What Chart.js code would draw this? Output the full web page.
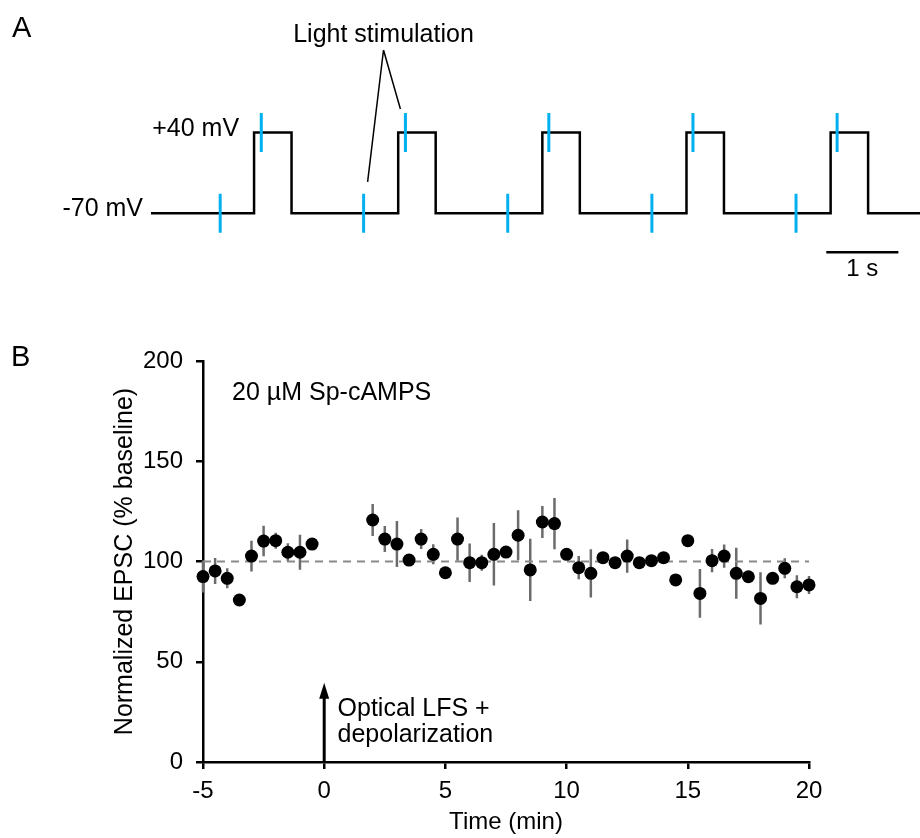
<!DOCTYPE html>
<html>
<head>
<meta charset="utf-8">
<script src="https://cdn.jsdelivr.net/npm/chart.js@4"></script>
<style>
  html, body { margin: 0; padding: 0; background: #fff; }
  #wrap { position: relative; width: 920px; height: 838px; }
  #traceWrap { position: absolute; left: 0; top: 0; }
  #epscWrap { position: absolute; left: 0; top: 290px; }
</style>
</head>
<body>
<div id="wrap">
  <div id="traceWrap"><canvas id="traceChart" width="920" height="295"></canvas></div>
  <div id="epscWrap"><canvas id="epscChart" width="920" height="548"></canvas></div>
</div>
<script>
// ---- panel A: voltage protocol (time in s, voltage in mV)
const holdMv = -70;
const stepMv = 40;
const traceEnd = 10.67;
const pulseOn = [1.43, 3.43, 5.43, 7.43, 9.43];
const pulseOff = [1.95, 3.95, 5.95, 7.95, 9.95];
const stimAtRest = [0.96, 2.95, 4.95, 6.95, 8.95];
const stimAtDepol = [1.53, 3.53, 5.52, 7.52, 9.52];

// ---- panel B: normalized EPSC (% baseline) vs time (min)
const preTime = [-5, -4.5, -4, -3.5, -3, -2.5, -2, -1.5, -1, -0.5];
const preEpsc = [92.5, 95.3, 91.6, 80.8, 102.7, 110.2, 110.4, 104.6, 104.6, 108.7];
const preSem = [8, 6.5, 5, 1.5, 7.7, 7.6, 4, 4.5, 8.7, 1.5];

const postTime = [2, 2.5, 3, 3.5, 4, 4.5, 5, 5.5, 6, 6.5, 7, 7.5, 8, 8.5, 9, 9.5, 10, 10.5, 11, 11.5,
                  12, 12.5, 13, 13.5, 14, 14.5, 15, 15.5, 16, 16.5, 17, 17.5, 18, 18.5, 19, 19.5, 20];
const postEpsc = [120.7, 111.2, 108.7, 100.7, 111.2, 103.6, 94.4, 111.2, 99.4, 99.4, 103.6, 104.7, 113.1, 95.8,
                  119.7, 118.9, 103.6, 96.9, 94.1, 101.9, 99.4, 102.7, 99.4, 100.4, 101.9, 90.8, 110.4, 84.1,
                  100.4, 102.7, 94.1, 92.4, 81.6, 91.6, 96.6, 87.4, 88.3];
const postSem = [8, 6.5, 11.5, 2, 5, 5, 1.5, 10.8, 9.6, 4, 15.6, 3, 12.5, 15.5, 8, 12.8, 2, 5.8, 12, 2,
                 1.5, 8.3, 1.5, 1.5, 1.5, 1.5, 1.5, 12.2, 5.8, 5.8, 12.7, 1.5, 13, 1.5, 5, 5.7, 4.5];

const baselineLevel = 100;
const inductionAt = 0;
const xTicks = [-5, 0, 5, 10, 15, 20];
const yTicks = [0, 50, 100, 150, 200];

const FONT = "'Liberation Sans', Arial, sans-serif";
const BLUE = '#00b0f0';

// step trace from the pulse times
const tracePts = [{x: 0, y: holdMv}];
pulseOn.forEach((t, i) => {
  tracePts.push({x: t, y: holdMv}, {x: t, y: stepMv}, {x: pulseOff[i], y: stepMv}, {x: pulseOff[i], y: holdMv});
});
tracePts.push({x: traceEnd, y: holdMv});

const TICK_HALF = 26.5; // mV
function stimTicks(times, level) {
  const pts = [];
  times.forEach(t => pts.push({x: t, y: level - TICK_HALF}, {x: t, y: level + TICK_HALF}, {x: t, y: null}));
  return pts;
}

const traceLabels = {
  id: 'traceLabels',
  afterDraw(chart) {
    const {ctx, chartArea, scales: {x, y}} = chart;
    ctx.save();
    ctx.fillStyle = '#000';
    ctx.strokeStyle = '#000';
    ctx.font = '29px ' + FONT;
    ctx.textAlign = 'left';
    ctx.textBaseline = 'alphabetic';
    ctx.fillText('A', 12, 36.5);

    ctx.font = '25px ' + FONT;
    ctx.textAlign = 'right';
    ctx.fillText('+40 mV', x.getPixelForValue(pulseOn[0]) - 15, y.getPixelForValue(stepMv) + 4);
    ctx.fillText('-70 mV', chartArea.left - 8, y.getPixelForValue(holdMv) + 3);

    // callout for the light stimulation
    const apexX = 383.5, apexY = 50;
    ctx.textAlign = 'center';
    ctx.fillText('Light stimulation', apexX, 42);
    ctx.lineWidth = 1.5;
    ctx.beginPath();
    ctx.moveTo(apexX, apexY);
    ctx.lineTo(x.getPixelForValue(stimAtRest[1]) + 4, y.getPixelForValue(holdMv + TICK_HALF) - 12);
    ctx.moveTo(apexX, apexY);
    ctx.lineTo(x.getPixelForValue(stimAtDepol[1]) - 5, y.getPixelForValue(stepMv + TICK_HALF) - 4);
    ctx.stroke();

    // 1 s scale bar label
    ctx.font = '24px ' + FONT;
    ctx.fillText('1 s', (x.getPixelForValue(9.37) + x.getPixelForValue(10.37)) / 2, y.getPixelForValue(-123) + 24);
    ctx.restore();
  }
};

new Chart(document.getElementById('traceChart'), {
  type: 'scatter',
  data: {
    datasets: [
      {data: tracePts, showLine: true, borderColor: '#000', borderWidth: 2.5, pointRadius: 0, clip: false, order: 2},
      {data: stimTicks(stimAtRest, holdMv), showLine: true, borderColor: BLUE, borderWidth: 3, pointRadius: 0, clip: false, order: 1},
      {data: stimTicks(stimAtDepol, stepMv), showLine: true, borderColor: BLUE, borderWidth: 3, pointRadius: 0, clip: false, order: 1},
      {data: [{x: 9.37, y: -123}, {x: 10.37, y: -123}], showLine: true, borderColor: '#000', borderWidth: 2.5, pointRadius: 0, clip: false}
    ]
  },
  options: {
    responsive: false,
    animation: false,
    layout: {padding: {left: 151, right: 0, top: 0, bottom: 0}},
    plugins: {legend: {display: false}, tooltip: {enabled: false}},
    scales: {
      x: {type: 'linear', display: false, min: 0, max: traceEnd},
      y: {type: 'linear', display: false, min: -181, max: 220}
    }
  },
  plugins: [traceLabels]
});

// ---- panel B
const errorBars = {
  id: 'errorBars',
  beforeDatasetsDraw(chart) {
    const {ctx, scales: {x, y}} = chart;
    ctx.save();
    ctx.strokeStyle = '#6b6b6b';
    ctx.lineWidth = 2.5;
    ctx.beginPath();
    [[preTime, preEpsc, preSem], [postTime, postEpsc, postSem]].forEach(([ts, ms, es]) => {
      ts.forEach((t, i) => {
        const px = x.getPixelForValue(t);
        ctx.moveTo(px, y.getPixelForValue(ms[i] - es[i]));
        ctx.lineTo(px, y.getPixelForValue(ms[i] + es[i]));
      });
    });
    ctx.stroke();
    ctx.restore();
  }
};

const epscLabels = {
  id: 'epscLabels',
  afterDraw(chart) {
    const {ctx, scales: {x, y}} = chart;
    ctx.save();
    ctx.fillStyle = '#000';
    ctx.strokeStyle = '#000';
    ctx.font = '29px ' + FONT;
    ctx.textAlign = 'left';
    ctx.textBaseline = 'alphabetic';
    ctx.fillText('B', 11, 76);

    ctx.font = '25px ' + FONT;
    ctx.fillText('20 \u00b5M Sp-cAMPS', x.getPixelForValue(-3.8), y.getPixelForValue(180.5));

    // induction arrow
    const ax = x.getPixelForValue(inductionAt);
    const tip = y.getPixelForValue(39.5);
    ctx.lineWidth = 3;
    ctx.beginPath();
    ctx.moveTo(ax, y.getPixelForValue(0));
    ctx.lineTo(ax, tip + 12);
    ctx.stroke();
    ctx.beginPath();
    ctx.moveTo(ax, tip);
    ctx.lineTo(ax - 5, tip + 16);
    ctx.lineTo(ax + 5, tip + 16);
    ctx.closePath();
    ctx.fill();

    ctx.fillText('Optical LFS +', x.getPixelForValue(0.55), y.getPixelForValue(23));
    ctx.fillText('depolarization', x.getPixelForValue(0.55), y.getPixelForValue(10));
    ctx.restore();
  }
};

const axisCommon = {
  grid: {display: true, drawOnChartArea: false, drawTicks: true, tickLength: 7, color: '#000', lineWidth: 2.5},
  border: {display: true, color: '#000', width: 2.5}
};

new Chart(document.getElementById('epscChart'), {
  type: 'scatter',
  data: {
    datasets: [
      {data: preTime.map((t, i) => ({x: t, y: preEpsc[i]})), backgroundColor: '#000', borderWidth: 0,
       pointRadius: 6.5, clip: false, order: 0},
      {data: postTime.map((t, i) => ({x: t, y: postEpsc[i]})), backgroundColor: '#000', borderWidth: 0,
       pointRadius: 6.5, clip: false, order: 0},
      {data: [{x: -5, y: baselineLevel}, {x: 20, y: baselineLevel}], showLine: true, borderColor: '#8a8a8a',
       borderWidth: 2, borderDash: [8, 6], pointRadius: 0, clip: false, order: 5}
    ]
  },
  options: {
    responsive: false,
    animation: false,
    layout: {padding: {left: 100, right: 111, top: 71, bottom: 0}},
    plugins: {legend: {display: false}, tooltip: {enabled: false}},
    scales: {
      x: {
        type: 'linear', min: -5, max: 20,
        afterBuildTicks: s => { s.ticks = xTicks.map(v => ({value: v})); },
        ticks: {color: '#000', font: {family: FONT, size: 24}, padding: 8},
        title: {display: true, text: 'Time (min)', color: '#000', font: {family: FONT, size: 24}, padding: {top: 0, bottom: 1}},
        afterFit: s => { s.height = 76; },
        ...axisCommon
      },
      y: {
        type: 'linear', min: 0, max: 200,
        afterBuildTicks: s => { s.ticks = yTicks.map(v => ({value: v})); },
        ticks: {color: '#000', font: {family: FONT, size: 24}, padding: 13},
        title: {display: true, text: 'Normalized EPSC (% baseline)', color: '#000', font: {family: FONT, size: 25}, padding: {top: 10, bottom: 0}},
        afterFit: s => { s.width = 103; },
        ...axisCommon
      }
    }
  },
  plugins: [errorBars, epscLabels]
});
</script>
</body>
</html>
